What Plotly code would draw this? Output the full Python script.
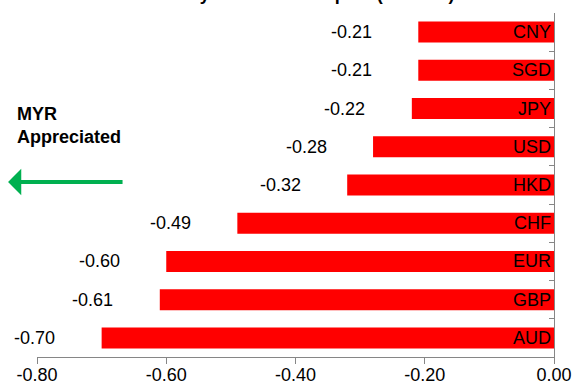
import plotly.graph_objects as go

# Data (bottom to top)
currencies = ["AUD", "GBP", "EUR", "CHF", "HKD", "USD", "JPY", "SGD", "CNY"]
changes = [-0.70, -0.61, -0.60, -0.49, -0.32, -0.28, -0.22, -0.21, -0.21]
x_tickvals = [-0.80, -0.60, -0.40, -0.20, 0.00]
x_ticktext = ["-0.80", "-0.60", "-0.40", "-0.20", "0.00"]
title_text = "Weekly MYR Forex Impact (% WoW)"
note_text = "MYR<br>Appreciated"

FONT = "Liberation Sans, Arial, sans-serif"

fig = go.Figure()
fig.add_trace(go.Bar(
    x=changes,
    y=currencies,
    orientation="h",
    marker=dict(color="#FF0000", line=dict(width=0)),
    text=currencies,
    textposition="inside",
    insidetextanchor="start",
    constraintext="none",
    textfont=dict(family=FONT, size=18, color="#000000"),
    hoverinfo="skip",
))

annotations = []
for c, v in zip(currencies, changes):
    annotations.append(dict(
        x=v, y=c, xref="x", yref="y",
        text=f"{v:.2f}", showarrow=False,
        xanchor="center", yanchor="middle", xshift=-67,
        font=dict(family=FONT, size=18, color="#000000"),
    ))

# Note text
annotations.append(dict(
    x=-0.043, y=0.672, xref="paper", yref="paper",
    text=f"<b>{note_text}</b>", showarrow=False,
    xanchor="left", yanchor="middle", align="left",
    font=dict(family=FONT, size=18, color="#000000"),
))
# Green arrow
annotations.append(dict(
    x=-0.056, y=0.5087, xref="paper", yref="paper",
    ax=116, ay=0, axref="pixel", ayref="pixel",
    text="", showarrow=True, arrowhead=1, arrowsize=1.1,
    arrowwidth=4, arrowcolor="#00B050", standoff=0, startstandoff=0,
))
# Title (mostly cut off above the page, as in the reference)
annotations.append(dict(
    x=0.51, y=1.0, xref="paper", yref="paper",
    text=f"<b>{title_text}</b>", showarrow=False,
    xanchor="center", yanchor="bottom", yshift=7,
    font=dict(family=FONT, size=18, color="#000000"),
))

fig.update_layout(
    width=573, height=385,
    margin=dict(l=37, r=19, t=13, b=28, autoexpand=False),
    paper_bgcolor="white", plot_bgcolor="white",
    showlegend=False,
    bargap=0.45,
    annotations=annotations,
    font=dict(family=FONT, size=18, color="#000000"),
    xaxis=dict(
        range=[-0.8, 0.0],
        tickvals=x_tickvals, ticktext=x_ticktext,
        showline=True, linecolor="#868686", linewidth=1,
        ticks="outside", ticklen=6, tickcolor="#868686",
        ticklabelstandoff=-5,
        showgrid=False, zeroline=False, automargin=False,
        tickfont=dict(family=FONT, size=18, color="#000000"),
        fixedrange=True,
    ),
    yaxis=dict(
        side="right",
        categoryorder="array", categoryarray=currencies,
        showline=True, linecolor="#868686", linewidth=1,
        ticks="inside", tickson="boundaries", ticklen=5, tickcolor="#868686",
        showticklabels=False, showgrid=False, zeroline=False, automargin=False,
        fixedrange=True,
    ),
)

fig.write_html("out.html")
